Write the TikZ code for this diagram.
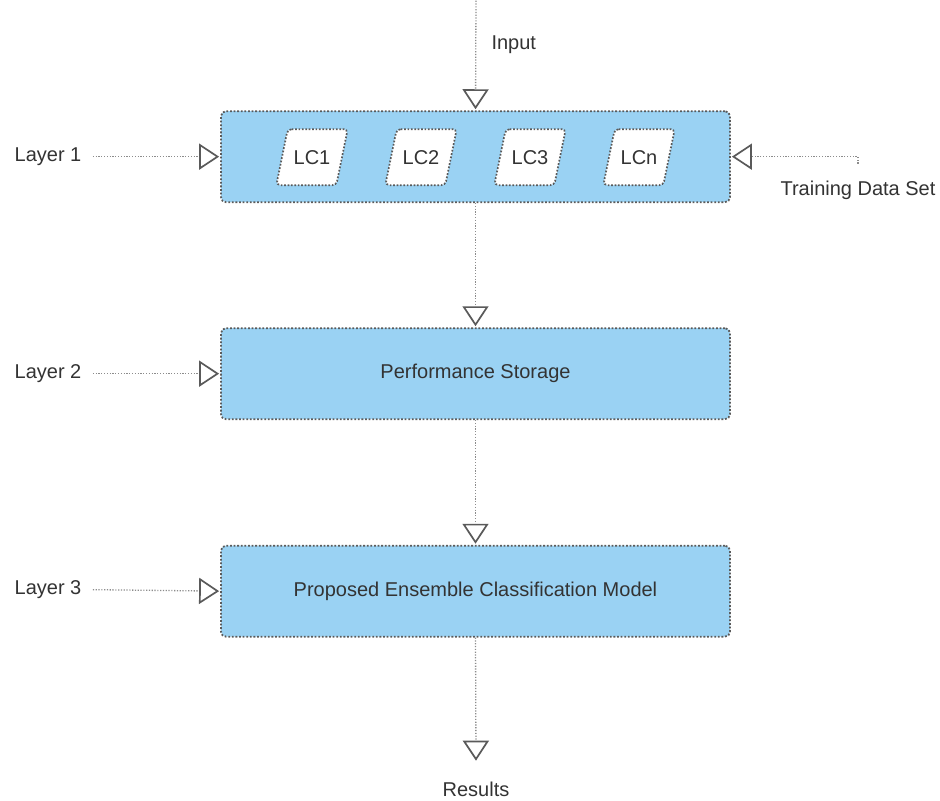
\documentclass[tikz,border=0pt]{standalone}
\usepackage{fontspec}
\setmainfont{Liberation Sans}
\usetikzlibrary{arrows.meta,calc}
\definecolor{boxfill}{HTML}{9AD2F3}
\definecolor{boxline}{HTML}{5A5A5A}
\definecolor{connline}{HTML}{8C8C8C}
\definecolor{tipcol}{HTML}{5A5A5A}
\definecolor{txt}{HTML}{333333}
\begin{document}
\begin{tikzpicture}[x=1pt,y=-1pt,
  every node/.style={font=\fontsize{20}{23}\selectfont, text=txt},
  layerbox/.style={draw=boxline, fill=boxfill, line width=1.8pt,
    dash pattern=on 1.8pt off 1.8pt, rounded corners=5pt,
    minimum width=509pt, minimum height=91pt, inner sep=0pt},
  lcshape/.style={draw=boxline, fill=white, line width=1.7pt,
    dash pattern=on 1.7pt off 1.7pt, rounded corners=4pt},
  conn/.style={draw=connline, line width=1.3pt, dash pattern=on 1.2pt off 1.6pt,
    -{Triangle[open, length=20pt, width=26pt, line width=1.7pt, color=tipcol]},
    shorten >=1pt},
]
\fill[white] (0,0) rectangle (940,799);

% boxes
\node[layerbox] (box1) at (475.5,156) {};
\node[layerbox] (box2) at (475.5,373) {Performance Storage};
\node[layerbox] (box3) at (475.5,590.5) {Proposed Ensemble Classification Model};

% learners (parallelograms)
\foreach \x/\t/\n in {312/LC1/lc1, 421/LC2/lc2, 530/LC3/lc3, 639/LCn/lcn}{
  \path[lcshape] (\x-24.3,128.5) -- (\x+35.7,128.5) -- (\x+24.3,184.5) -- (\x-35.7,184.5) -- cycle;
  \node (\n) at (\x,156.5) {\t};
}

% input
\coordinate (intop) at (476,0);
\node[anchor=west] (inlbl) at (488,44) {Input};
\draw[conn] (intop) -- (box1.north);

% layer labels
\node (l1) at (48,156) {Layer 1};
\node (l2) at (48,373) {Layer 2};
\node (l3) at (48,589) {Layer 3};
\draw[conn] (l1.east) ++(8,0) coordinate (l1s) -- (box1.west);
\draw[conn] (l2.east) ++(8,0) coordinate (l2s) -- (box2.west);
\draw[conn] (l3.east) ++(8,0) coordinate (l3s) -- (box3.west);

% training data set
\coordinate (tds) at (858,163);
\node (tdl) at (858,190) {Training Data Set};
\draw[conn] (tds) |- (box1.east);

% between layers
\draw[conn] (box1.south) -- (box2.north);
\draw[conn] (box2.south) -- (box3.north);

% results
\node (res) at (476,789) {Results};
\coordinate (restip) at (476,760);
\draw[conn, shorten >=0pt] (box3.south) -- (restip);
\end{tikzpicture}
\end{document}
